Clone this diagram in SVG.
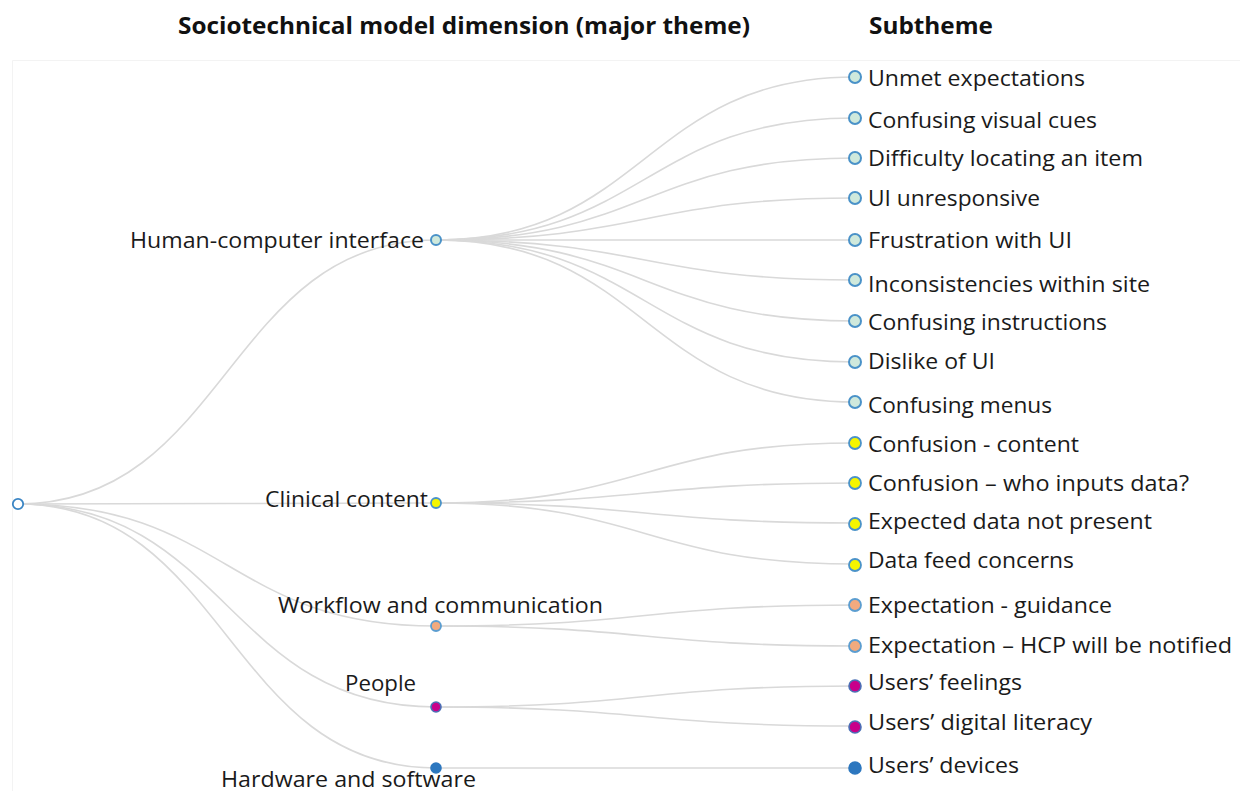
<svg xmlns="http://www.w3.org/2000/svg" width="1240" height="791" viewBox="0 0 1240 791">
<style>
text{font-family:"Open Sans","Liberation Sans",sans-serif;fill:#1a1a1a;font-size:22px}
.title{font-weight:bold;font-size:23px;fill:#111}
.link{fill:none;stroke:#d9d9d9;stroke-width:1.6}
.hci{fill:#cfe9dc;stroke:#4a92c8;stroke-width:2}
.cc{fill:#f5f500;stroke:#4a92c8;stroke-width:1.8}
.wf{fill:#f2aa7e;stroke:#5b9dd0;stroke-width:1.8}
.pp{fill:#c8008a;stroke:#4a6fb5;stroke-width:1.6}
.hw{fill:#2c77bf;stroke:#2c77bf;stroke-width:1.6}
</style>
<rect width="1240" height="791" fill="#fff"/>
<path d="M12.5,791 V60.5 H1240" fill="none" stroke="#f3f3f3" stroke-width="1"/>
<g id="headers">
<text class="title" x="178" y="34" textLength="572" lengthAdjust="spacingAndGlyphs">Sociotechnical model dimension (major theme)</text>
<text class="title" x="869" y="34" textLength="124" lengthAdjust="spacingAndGlyphs">Subtheme</text>
</g>
<g id="connectors">
<path class="link" d="M18,504 C227,504 227,240 436,240"/>
<path class="link" d="M18,504 C227,504 227,503 436,503"/>
<path class="link" d="M18,504 C227,504 227,626 436,626"/>
<path class="link" d="M18,504 C227,504 227,707 436,707"/>
<path class="link" d="M18,504 C227,504 227,768 436,768"/>
<path class="link" d="M436,240 C645,240 645,77 855,77"/>
<path class="link" d="M436,240 C645,240 645,118 855,118"/>
<path class="link" d="M436,240 C645,240 645,158 855,158"/>
<path class="link" d="M436,240 C645,240 645,198 855,198"/>
<path class="link" d="M436,240 C645,240 645,240 855,240"/>
<path class="link" d="M436,240 C645,240 645,280 855,280"/>
<path class="link" d="M436,240 C645,240 645,321 855,321"/>
<path class="link" d="M436,240 C645,240 645,362 855,362"/>
<path class="link" d="M436,240 C645,240 645,402 855,402"/>
<path class="link" d="M436,503 C645,503 645,443 855,443"/>
<path class="link" d="M436,503 C645,503 645,483 855,483"/>
<path class="link" d="M436,503 C645,503 645,523 855,523"/>
<path class="link" d="M436,503 C645,503 645,564 855,564"/>
<path class="link" d="M436,626 C645,626 645,605 855,605"/>
<path class="link" d="M436,626 C645,626 645,646 855,646"/>
<path class="link" d="M436,707 C645,707 645,686 855,686"/>
<path class="link" d="M436,707 C645,707 645,726 855,726"/>
<path class="link" d="M436,768 C645,768 645,768 855,768"/>
</g>
<g id="root"><circle cx="18" cy="504" r="5.2" fill="#fff" stroke="#3a85c4" stroke-width="1.8"/></g>
<g id="theme-hci"><circle class="hci" cx="436" cy="240" r="5"/><text x="130" y="248" textLength="294" lengthAdjust="spacingAndGlyphs">Human-computer interface</text></g>
<g id="theme-clinical"><circle class="cc" cx="436" cy="503" r="5"/><text x="265" y="507" textLength="163" lengthAdjust="spacingAndGlyphs">Clinical content</text></g>
<g id="theme-workflow"><circle class="wf" cx="436" cy="626" r="5"/><text x="278" y="613" textLength="325" lengthAdjust="spacingAndGlyphs">Workflow and communication</text></g>
<g id="theme-people"><circle class="pp" cx="436" cy="707" r="5"/><text x="345" y="691" textLength="71" lengthAdjust="spacingAndGlyphs">People</text></g>
<g id="theme-hardware"><circle class="hw" cx="436" cy="768" r="5"/><text x="221" y="787" textLength="255" lengthAdjust="spacingAndGlyphs">Hardware and software</text></g>
<g id="leaf-1"><circle class="hci" cx="855" cy="77" r="6"/><text x="868" y="86" textLength="217" lengthAdjust="spacingAndGlyphs">Unmet expectations</text></g>
<g id="leaf-2"><circle class="hci" cx="855" cy="118" r="6"/><text x="868" y="128" textLength="229" lengthAdjust="spacingAndGlyphs">Confusing visual cues</text></g>
<g id="leaf-3"><circle class="hci" cx="855" cy="158" r="6"/><text x="868" y="166" textLength="275" lengthAdjust="spacingAndGlyphs">Difficulty locating an item</text></g>
<g id="leaf-4"><circle class="hci" cx="855" cy="198" r="6"/><text x="868" y="206" textLength="172" lengthAdjust="spacingAndGlyphs">UI unresponsive</text></g>
<g id="leaf-5"><circle class="hci" cx="855" cy="240" r="6"/><text x="868" y="248" textLength="204" lengthAdjust="spacingAndGlyphs">Frustration with UI</text></g>
<g id="leaf-6"><circle class="hci" cx="855" cy="280" r="6"/><text x="868" y="292" textLength="282" lengthAdjust="spacingAndGlyphs">Inconsistencies within site</text></g>
<g id="leaf-7"><circle class="hci" cx="855" cy="321" r="6"/><text x="868" y="330" textLength="239" lengthAdjust="spacingAndGlyphs">Confusing instructions</text></g>
<g id="leaf-8"><circle class="hci" cx="855" cy="362" r="6"/><text x="868" y="369" textLength="127" lengthAdjust="spacingAndGlyphs">Dislike of UI</text></g>
<g id="leaf-9"><circle class="hci" cx="855" cy="402" r="6"/><text x="868" y="413" textLength="184" lengthAdjust="spacingAndGlyphs">Confusing menus</text></g>
<g id="leaf-10"><circle class="cc" cx="855" cy="443" r="6"/><text x="868" y="452" textLength="211" lengthAdjust="spacingAndGlyphs">Confusion - content</text></g>
<g id="leaf-11"><circle class="cc" cx="855" cy="483" r="6"/><text x="868" y="491" textLength="321" lengthAdjust="spacingAndGlyphs">Confusion – who inputs data?</text></g>
<g id="leaf-12"><circle class="cc" cx="855" cy="524" r="6"/><text x="868" y="529" textLength="284" lengthAdjust="spacingAndGlyphs">Expected data not present</text></g>
<g id="leaf-13"><circle class="cc" cx="855" cy="565" r="6"/><text x="868" y="568" textLength="206" lengthAdjust="spacingAndGlyphs">Data feed concerns</text></g>
<g id="leaf-14"><circle class="wf" cx="855" cy="605" r="6"/><text x="868" y="613" textLength="244" lengthAdjust="spacingAndGlyphs">Expectation - guidance</text></g>
<g id="leaf-15"><circle class="wf" cx="855" cy="646" r="6"/><text x="868" y="653" textLength="364" lengthAdjust="spacingAndGlyphs">Expectation – HCP will be notified</text></g>
<g id="leaf-16"><circle class="pp" cx="855" cy="686" r="6"/><text x="868" y="690" textLength="154" lengthAdjust="spacingAndGlyphs">Users’ feelings</text></g>
<g id="leaf-17"><circle class="pp" cx="855" cy="727" r="6"/><text x="868" y="730" textLength="224" lengthAdjust="spacingAndGlyphs">Users’ digital literacy</text></g>
<g id="leaf-18"><circle class="hw" cx="855" cy="768" r="6"/><text x="868" y="773" textLength="151" lengthAdjust="spacingAndGlyphs">Users’ devices</text></g>
</svg>
